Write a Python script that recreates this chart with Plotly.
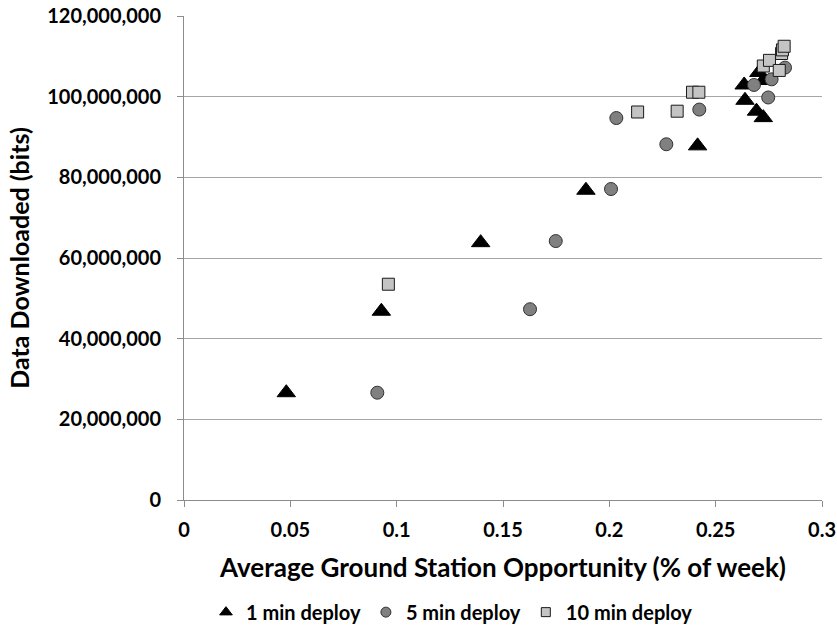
import plotly.graph_objects as go

# 1 min deploy (triangles)
x_1min = [0.0481, 0.0928, 0.1395, 0.1890, 0.2415, 0.2634, 0.2638, 0.2692, 0.2724, 0.2724, 0.2703]
y_1min = [26.6e6, 46.8e6, 63.8e6, 76.8e6, 87.8e6, 102.9e6, 99.1e6, 96.4e6, 94.8e6, 104.0e6, 106.0e6]

# 5 min deploy (circles)
x_5min = [0.0909, 0.1627, 0.1748, 0.2008, 0.2268, 0.2033, 0.2423, 0.2680, 0.2747, 0.2763, 0.2826]
y_5min = [26.6e6, 47.3e6, 64.2e6, 77.1e6, 88.2e6, 94.7e6, 96.8e6, 102.9e6, 99.8e6, 104.3e6, 107.2e6]

# 10 min deploy (squares)
x_10min = [0.0961, 0.2133, 0.2319, 0.2391, 0.2421, 0.2724, 0.2753, 0.2799, 0.2810, 0.2814, 0.2822]
y_10min = [53.5e6, 96.2e6, 96.4e6, 101.1e6, 101.1e6, 107.6e6, 109.0e6, 106.5e6, 110.7e6, 111.6e6, 112.5e6]

series_names = ["1 min deploy", "5 min deploy", "10 min deploy"]

x_ticks = [0, 0.05, 0.1, 0.15, 0.2, 0.25, 0.3]
x_tick_labels = ["0", "0.05", "0.1", "0.15", "0.2", "0.25", "0.3"]
y_ticks = [0, 20e6, 40e6, 60e6, 80e6, 100e6, 120e6]
y_tick_labels = ["0", "20,000,000", "40,000,000", "60,000,000", "80,000,000", "100,000,000", "120,000,000"]

FONT = "Lato, 'Open Sans', sans-serif"

styles = [
    dict(symbol="triangle-up", size=16, color="black", line=dict(color="black", width=1)),
    dict(symbol="circle", size=13, color="#808080", line=dict(color="#333333", width=1)),
    dict(symbol="square", size=12, color="#c4c4c4", line=dict(color="#1a1a1a", width=1)),
]
legend_styles = [
    dict(symbol="triangle-up", size=11, color="black", line=dict(color="black", width=1)),
    dict(symbol="circle", size=10, color="#808080", line=dict(color="#333333", width=1)),
    dict(symbol="square", size=9, color="#c4c4c4", line=dict(color="#1a1a1a", width=1)),
]

fig = go.Figure()
for xs, ys, name, st in zip([x_1min, x_5min, x_10min], [y_1min, y_5min, y_10min], series_names, styles):
    fig.add_trace(go.Scatter(x=xs, y=ys, mode="markers", name=name, marker=st,
                             showlegend=False))
# legend entries with smaller symbols (as in the reference legend)
for name, st in zip(series_names, legend_styles):
    fig.add_trace(go.Scatter(x=[None], y=[None], mode="markers", name="<b>" + name + "</b>",
                             marker=st, showlegend=True, hoverinfo="skip"))

fig.update_layout(
    width=837, height=635,
    margin=dict(l=184, r=15, t=16, b=135),
    paper_bgcolor="white", plot_bgcolor="white",
    font=dict(family=FONT, size=17, color="black"),
    showlegend=True,
    legend=dict(
        orientation="h", xref="container", yref="container",
        x=0.54, xanchor="center", y=0.036, yanchor="middle",
        font=dict(family=FONT, size=20, color="black"),
        itemwidth=30, tracegroupgap=0,
    ),
    xaxis=dict(
        range=[0, 0.3], tickmode="array", tickvals=x_ticks, ticktext=x_tick_labels,
        showgrid=False, zeroline=False, automargin=False,
        showline=True, linecolor="#8c8c8c", linewidth=1,
        ticks="outside", ticklen=6, tickcolor="#8c8c8c",
        ticklabelstandoff=6,
        tickfont=dict(family=FONT, size=20, color="black", weight="bold"),
        title=dict(text="<b>Average Ground Station Opportunity (% of week)</b>",
                   font=dict(family=FONT, size=26, color="black"), standoff=18),
    ),
    yaxis=dict(
        range=[0, 120e6], tickmode="array", tickvals=y_ticks, ticktext=y_tick_labels,
        showgrid=True, gridcolor="#a6a6a6", gridwidth=1, zeroline=False, automargin=False,
        showline=True, linecolor="#8c8c8c", linewidth=1,
        ticks="outside", ticklen=6, tickcolor="#8c8c8c",
        ticklabelstandoff=12,
        tickfont=dict(family=FONT, size=20, color="black", weight="bold"),
        title=dict(text="<b>Data Downloaded (bits)</b>",
                   font=dict(family=FONT, size=25, color="black"), standoff=10),
    ),
)

fig.write_html("out.html")
